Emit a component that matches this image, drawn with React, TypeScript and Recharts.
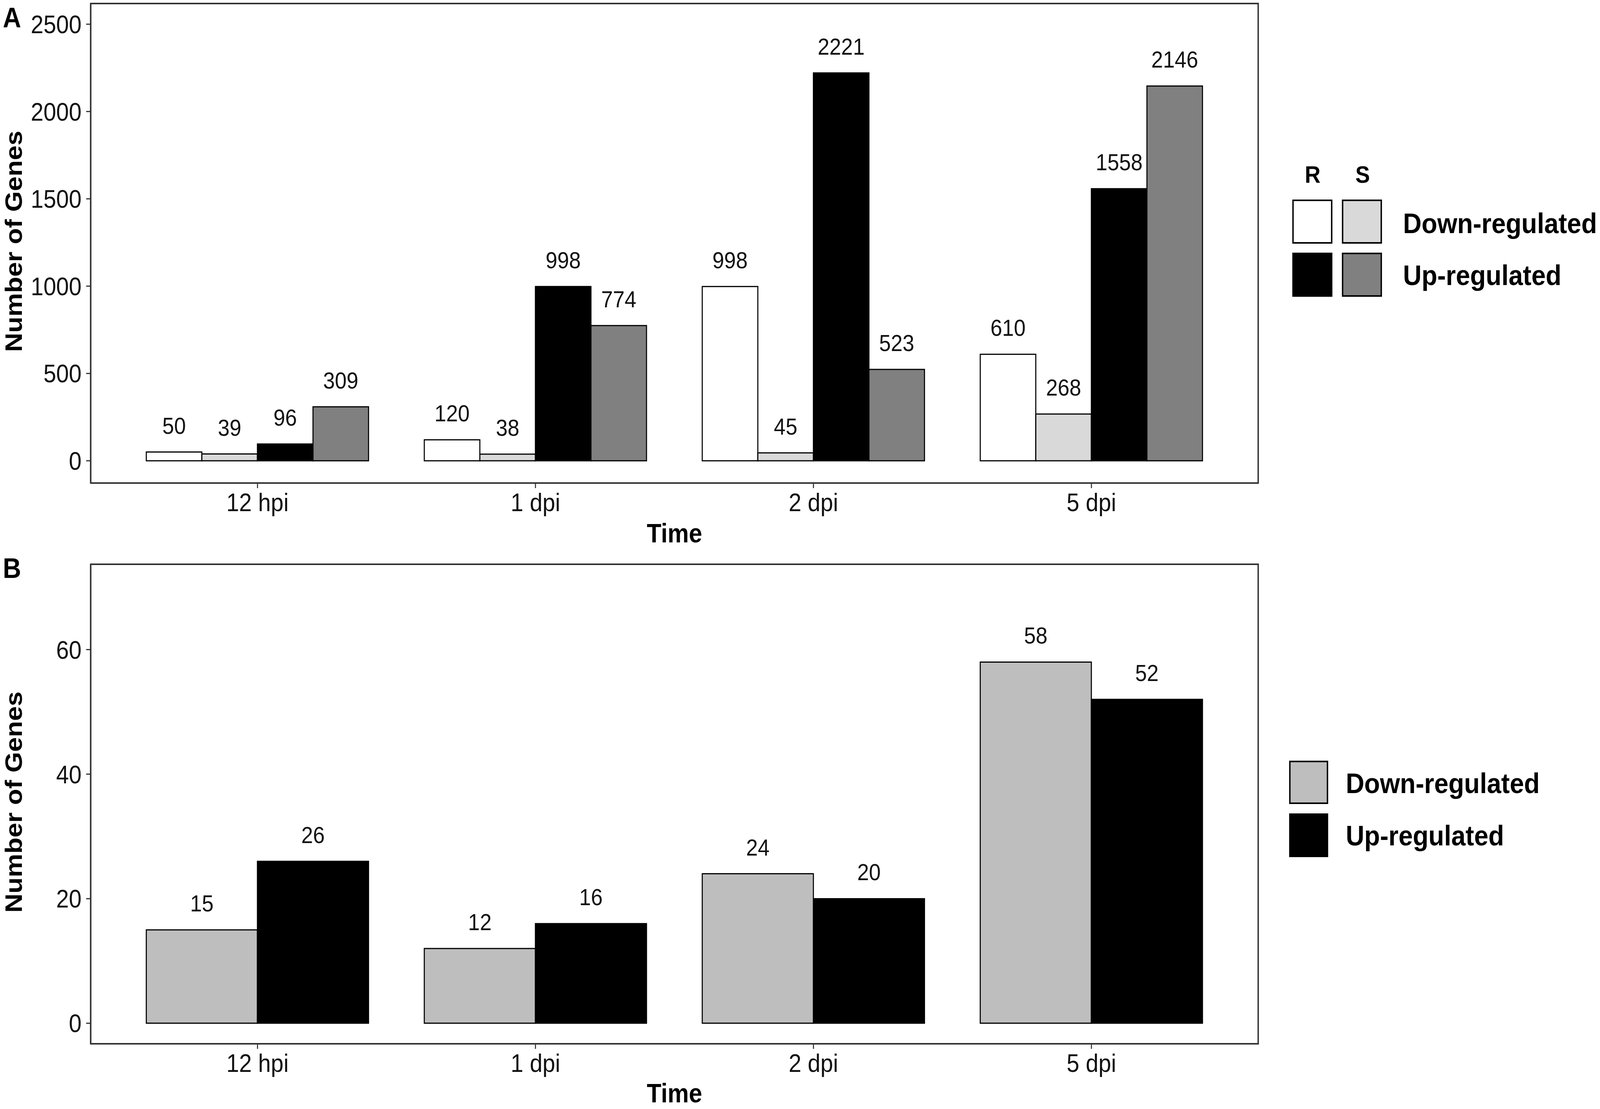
import React from 'react';
import * as R from 'recharts';
import { BarChart, Bar, XAxis, YAxis, LabelList } from 'recharts';

// ---------- data ----------
const categories = ['12 hpi', '1 dpi', '2 dpi', '5 dpi'];
const rDown = [50, 120, 998, 610];
const sDown = [39, 38, 45, 268];
const rUp = [96, 998, 2221, 1558];
const sUp = [309, 774, 523, 2146];
const ticksA = [0, 500, 1000, 1500, 2000, 2500];

const bDown = [15, 12, 24, 58];
const bUp = [26, 16, 20, 52];
const ticksB = [0, 20, 40, 60];

const legendRows = ['Down-regulated', 'Up-regulated'];
const legendCols = ['R', 'S'];

// ---------- styles ----------
const FONT = '"Liberation Sans", Arial, Helvetica, sans-serif';
const TXT = '#111111';
const BORDER = '#333333';
const fillsA = { rDown: '#ffffff', sDown: '#d9d9d9', rUp: '#000000', sUp: '#808080' };
const fillsB = { down: '#bebebe', up: '#000000' };

const dataA = categories.map((c, i) => ({ time: c, rDown: rDown[i], sDown: sDown[i], rUp: rUp[i], sUp: sUp[i] }));
const dataB = categories.map((c, i) => ({ time: c, down: bDown[i], up: bUp[i] }));

const W = 4550;
const H = 2840;
const CHART_H = 1420;
const MARGIN_A = { top: 9, right: 972, bottom: 0, left: 0 };
const MARGIN_B = { top: 25, right: 972, bottom: 0, left: 0 };
const YAXIS_W = 258;
const XAXIS_H_A = 183;
const XAXIS_H_B = 167;

// Panel frame drawn from the chart's own plot area
const hookPlotArea: any = (R as any).usePlotArea;
const hookOffset: any = (R as any).useOffset;

function FrameFromPlotArea() {
  const pa = hookPlotArea();
  if (!pa) return null;
  return <rect x={pa.x} y={pa.y} width={pa.width} height={pa.height} fill="none" stroke={BORDER} strokeWidth={4} />;
}
function FrameFromOffset() {
  const o = hookOffset();
  if (!o) return null;
  return (
    <rect x={o.left} y={o.top} width={W - o.left - o.right} height={CHART_H - o.top - o.bottom} fill="none" stroke={BORDER} strokeWidth={4} />
  );
}
function FrameFixed({ top, bottomAxis }: { top: number; bottomAxis: number }) {
  const x = YAXIS_W;
  const w = W - 972 - YAXIS_W;
  const h = CHART_H - top - bottomAxis;
  return <rect x={x} y={top} width={w} height={h} fill="none" stroke={BORDER} strokeWidth={4} />;
}
const Frame = (props: { top: number; bottomAxis: number }) =>
  hookPlotArea ? <FrameFromPlotArea /> : hookOffset ? <FrameFromOffset /> : <FrameFixed {...props} />;

const valueLabel = (props: any) => {
  const { x, y, width, value } = props;
  const cx = Number(x) + Number(width) / 2;
  return (
    <text x={cx} y={Number(y) - 47} textAnchor="middle" fontSize={60} fontFamily={FONT} fill={TXT}>
      {value}
    </text>
  );
};

const yTitle = (props: any) => {
  const vb = props.viewBox || {};
  const cy = vb.y + vb.height / 2 - 5;
  const x = 39;
  return (
    <text
      x={x}
      y={cy}
      transform={`rotate(-90 ${x} ${cy})`}
      textAnchor="middle"
      dominantBaseline="central"
      fontSize={68}
      fontWeight="bold"
      fontFamily={FONT}
      fill="#000"
    >
      Number of Genes
    </text>
  );
};

const xTitle = (dy: number) => (props: any) => {
  const vb = props.viewBox || {};
  const cx = vb.x + vb.width / 2;
  return (
    <text x={cx} y={vb.y + dy} textAnchor="middle" fontSize={68} fontWeight="bold" fontFamily={FONT} fill="#000">
      Time
    </text>
  );
};

const tickStyle = { fontSize: 65, fontFamily: FONT, fill: TXT };
const axisLineStyle = { stroke: BORDER, strokeWidth: 4 };
const tickLineStyle = { stroke: BORDER, strokeWidth: 3 };
const barStroke = { stroke: '#000000', strokeWidth: 3 };

export default function App() {
  const vw = typeof window !== 'undefined' && window.innerWidth ? Math.min(window.innerWidth, W) : W;
  const sx = vw / W;
  return (
    <div style={{ position: 'absolute', left: 0, top: 0, width: vw, height: H, background: '#ffffff', overflow: 'hidden' }}>
      <div
        style={{
          position: 'absolute',
          left: 0,
          top: 0,
          width: W,
          height: H,
          transform: `scaleX(${sx})`,
          transformOrigin: '0 0',
          background: '#ffffff',
        }}
      >
        {/* Panel A */}
        <div style={{ position: 'absolute', left: 0, top: 0 }}>
          <BarChart width={W} height={CHART_H} data={dataA} margin={MARGIN_A} barCategoryGap="10%" barGap={0}>
            <XAxis
              dataKey="time"
              type="category"
              height={XAXIS_H_A}
              padding={{ left: 79, right: 79 }}
              tick={tickStyle}
              tickSize={13}
              tickMargin={13}
              axisLine={axisLineStyle}
              tickLine={tickLineStyle}
              interval={0}
              label={{ content: xTitle(152) }}
            />
            <YAxis
              type="number"
              width={YAXIS_W}
              domain={[-127.5, 2618.5]}
              ticks={ticksA}
              allowDataOverflow
              tick={tickStyle}
              tickSize={13}
              tickMargin={13}
              axisLine={axisLineStyle}
              tickLine={tickLineStyle}
              label={{ content: yTitle }}
            />
            <Bar dataKey="rDown" fill={fillsA.rDown} {...barStroke} isAnimationActive={false}>
              <LabelList dataKey="rDown" content={valueLabel} />
            </Bar>
            <Bar dataKey="sDown" fill={fillsA.sDown} {...barStroke} isAnimationActive={false}>
              <LabelList dataKey="sDown" content={valueLabel} />
            </Bar>
            <Bar dataKey="rUp" fill={fillsA.rUp} {...barStroke} isAnimationActive={false}>
              <LabelList dataKey="rUp" content={valueLabel} />
            </Bar>
            <Bar dataKey="sUp" fill={fillsA.sUp} {...barStroke} isAnimationActive={false}>
              <LabelList dataKey="sUp" content={valueLabel} />
            </Bar>
            <Frame top={MARGIN_A.top} bottomAxis={XAXIS_H_A} />
          </BarChart>
        </div>

        {/* Panel B */}
        <div style={{ position: 'absolute', left: 0, top: CHART_H }}>
          <BarChart width={W} height={CHART_H} data={dataB} margin={MARGIN_B} barCategoryGap="10%" barGap={0}>
            <XAxis
              dataKey="time"
              type="category"
              height={XAXIS_H_B}
              padding={{ left: 79, right: 79 }}
              tick={tickStyle}
              tickSize={13}
              tickMargin={13}
              axisLine={axisLineStyle}
              tickLine={tickLineStyle}
              interval={0}
              label={{ content: xTitle(150) }}
            />
            <YAxis
              type="number"
              width={YAXIS_W}
              domain={[-3.3, 73.7]}
              ticks={ticksB}
              allowDataOverflow
              tick={tickStyle}
              tickSize={13}
              tickMargin={13}
              axisLine={axisLineStyle}
              tickLine={tickLineStyle}
              label={{ content: yTitle }}
            />
            <Bar dataKey="down" fill={fillsB.down} {...barStroke} isAnimationActive={false}>
              <LabelList dataKey="down" content={valueLabel} />
            </Bar>
            <Bar dataKey="up" fill={fillsB.up} {...barStroke} isAnimationActive={false}>
              <LabelList dataKey="up" content={valueLabel} />
            </Bar>
            <Frame top={MARGIN_B.top} bottomAxis={XAXIS_H_B} />
          </BarChart>
        </div>

        {/* Panel letters and legends */}
        <svg width={W} height={H} style={{ position: 'absolute', left: 0, top: 0, pointerEvents: 'none' }}>
          <text x={8} y={70} fontSize={72} fontWeight="bold" fontFamily={FONT} fill="#000">A</text>
          <text x={8} y={1480} fontSize={72} fontWeight="bold" fontFamily={FONT} fill="#000">B</text>

          {/* Legend A */}
          {legendCols.map((c, j) => (
            <text key={c} x={3733 + j * 142} y={468} textAnchor="middle" fontSize={62} fontWeight="bold" fontFamily={FONT} fill="#000">
              {c}
            </text>
          ))}
          <rect x={3677} y={513} width={110} height={109} fill={fillsA.rDown} stroke="#000" strokeWidth={4} />
          <rect x={3818} y={513} width={110} height={109} fill={fillsA.sDown} stroke="#000" strokeWidth={4} />
          <rect x={3677} y={649} width={110} height={109} fill={fillsA.rUp} stroke="#000" strokeWidth={4} />
          <rect x={3818} y={649} width={110} height={109} fill={fillsA.sUp} stroke="#000" strokeWidth={4} />
          {legendRows.map((r, i) => (
            <text key={r} x={3990} y={597 + i * 133} fontSize={73} fontWeight="bold" fontFamily={FONT} fill="#000">
              {r}
            </text>
          ))}

          {/* Legend B */}
          <rect x={3668} y={1950} width={107} height={107} fill={fillsB.down} stroke="#000" strokeWidth={4} />
          <rect x={3668} y={2085} width={107} height={108} fill={fillsB.up} stroke="#000" strokeWidth={4} />
          {legendRows.map((r, i) => (
            <text key={r + 'b'} x={3827} y={2031 + i * 134} fontSize={73} fontWeight="bold" fontFamily={FONT} fill="#000">
              {r}
            </text>
          ))}
        </svg>
      </div>
    </div>
  );
}
